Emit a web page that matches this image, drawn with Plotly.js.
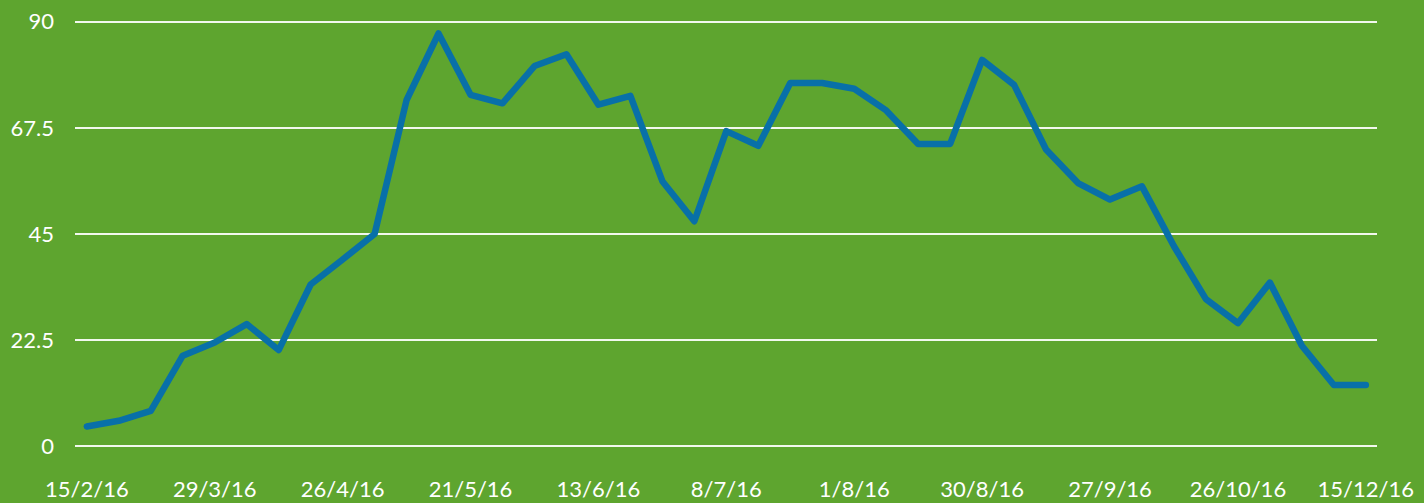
<!DOCTYPE html>
<html>
<head>
<meta charset="utf-8">
<script src="https://cdn.plot.ly/plotly-3.0.1.min.js"></script>
<style>
  html, body { margin: 0; padding: 0; background: #5ea52f; }
  #chart { width: 1424px; height: 503px; }
  #chart .js-line { stroke-linecap: round; stroke-linejoin: round; }
</style>
</head>
<body>
<div id="chart"></div>
<script>
// Series values (one point per period, 41 periods)
const values = [
  4.2, 5.4, 7.5, 19.2, 22.0, 25.9, 20.4, 34.3, 39.6, 45.0,
  73.4, 87.5, 74.5, 72.7, 80.6, 83.1, 72.4, 74.3, 56.2, 47.7,
  66.8, 63.7, 77.0, 77.0, 75.8, 71.2, 64.1, 64.1, 81.9, 76.6,
  62.9, 55.8, 52.3, 55.1, 42.4, 31.2, 26.1, 34.7, 21.3, 13.0,
  13.0
];
// Period index of each value
const periods = values.map((_, i) => i);

// Tick labels shown on the x axis (every fourth period)
const tickLabels = ["15/2/16", "29/3/16", "26/4/16", "21/5/16", "13/6/16", "8/7/16",
                    "1/8/16", "30/8/16", "27/9/16", "26/10/16", "15/12/16"];
const tickPeriods = [0, 4, 8, 12, 16, 20, 24, 28, 32, 36, 40];

// Y axis ticks
const yTicks = [0, 22.5, 45, 67.5, 90];
const yTickText = ["0", "22.5", "45", "67.5", "90"];

const font = { family: "Lato, 'Open Sans', sans-serif", size: 22, color: "#ffffff" };

Plotly.newPlot("chart", [{
  x: periods,
  y: values,
  type: "scatter",
  mode: "lines",
  line: { color: "#0870a8", width: 6.5, shape: "linear" },
  hoverinfo: "y"
}], {
  width: 1424,
  height: 503,
  paper_bgcolor: "#5ea52f",
  plot_bgcolor: "rgba(0,0,0,0)",
  margin: { l: 75, r: 47, t: 17, b: 52 },
  showlegend: false,
  font: font,
  xaxis: {
    range: [-0.37, 40.35],
    tickvals: tickPeriods,
    ticktext: tickLabels,
    showgrid: false,
    zeroline: false,
    showline: false,
    ticks: "",
    ticklabelstandoff: 23,
    tickfont: font,
    fixedrange: true
  },
  yaxis: {
    range: [-1, 91],
    tickvals: yTicks,
    ticktext: yTickText,
    showgrid: true,
    gridcolor: "rgba(255,255,255,0.92)",
    gridwidth: 1.6,
    zeroline: false,
    showline: false,
    ticks: "",
    ticklabelstandoff: 20,
    tickfont: font,
    fixedrange: true
  }
}, { displayModeBar: false, staticPlot: true });
</script>
</body>
</html>
